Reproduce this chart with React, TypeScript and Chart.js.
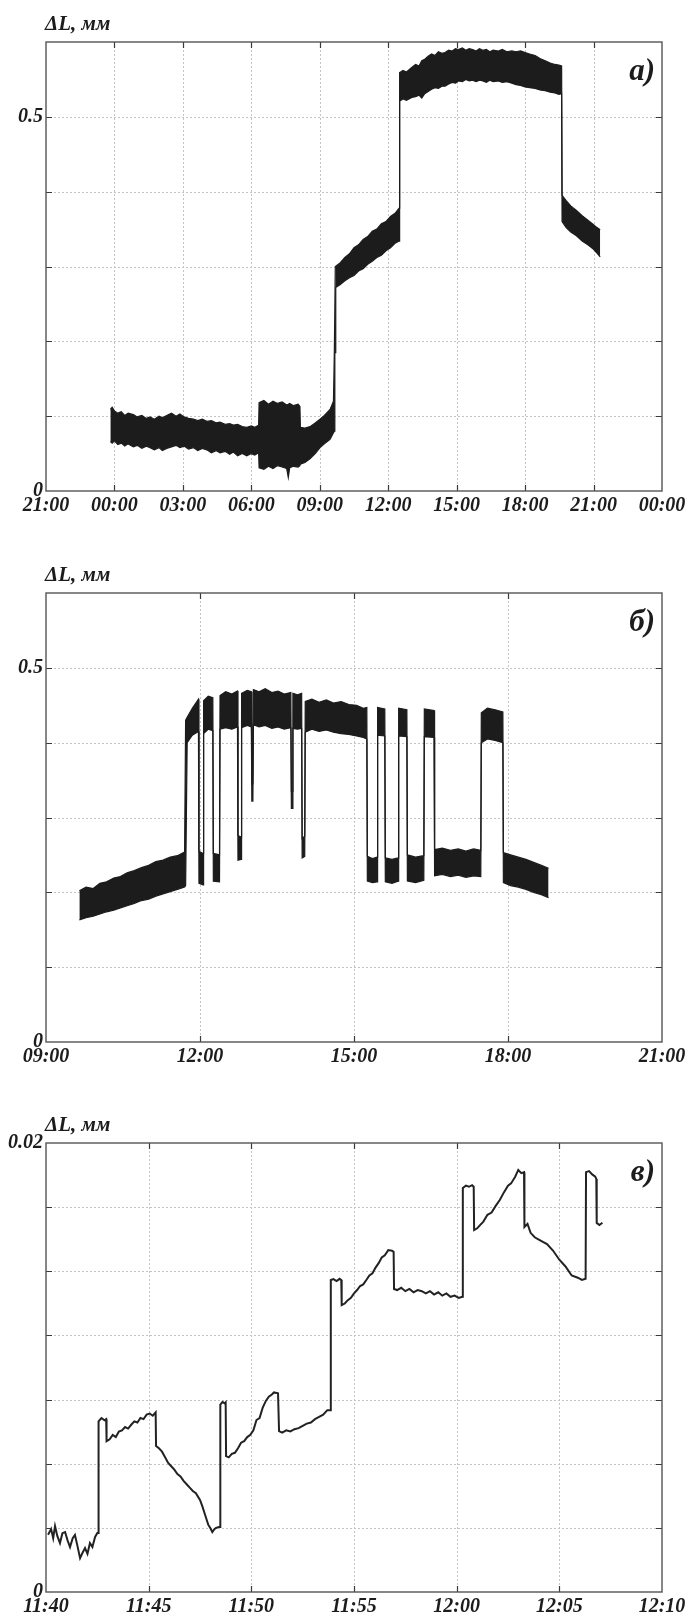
import React, { useEffect, useRef } from 'react';
import { Chart, registerables } from 'chart.js';

Chart.register(...registerables);

// ---------- Panel a: time in hours (0 = 00:00 of day 1), upper / lower envelope of the band ----------
const aTimes = [-0.18, -0.1, 0, 0.15, 0.3, 0.45, 0.6, 0.83, 1.0, 1.2, 1.4, 1.56, 1.75, 1.95, 2.1, 2.29, 2.5, 2.7, 2.87, 3.05, 3.25, 3.46, 3.65, 3.85, 4.05, 4.25, 4.45, 4.63, 4.85, 5.05, 5.21, 5.4, 5.6, 5.8, 6.0, 6.15, 6.32, 6.34, 6.55, 6.75, 6.95, 7.15, 7.35, 7.55, 7.62, 7.68, 7.85, 8.05, 8.13, 8.15, 8.35, 8.57, 8.8, 9.01, 9.2, 9.45, 9.6, 9.64, 9.66, 9.68, 9.7, 9.9, 10.1, 10.3, 10.5, 10.7, 10.9, 11.1, 11.3, 11.5, 11.7, 11.9, 12.1, 12.3, 12.48, 12.5, 12.65, 12.8, 13.03, 13.2, 13.35, 13.47, 13.6, 13.75, 13.9, 14.05, 14.2, 14.35, 14.49, 14.65, 14.8, 14.95, 15.07, 15.25, 15.4, 15.55, 15.7, 15.85, 16.0, 16.15, 16.3, 16.45, 16.6, 16.83, 17.0, 17.2, 17.42, 17.6, 17.8, 18.0, 18.2, 18.44, 18.65, 18.88, 19.1, 19.31, 19.48, 19.6, 19.62, 19.8, 20.0, 20.25, 20.5, 20.75, 21.0, 21.15, 21.29];
const aUpper = [0.109, 0.112, 0.107, 0.104, 0.106, 0.101, 0.104, 0.102, 0.099, 0.101, 0.097, 0.099, 0.096, 0.1, 0.098, 0.101, 0.104, 0.1, 0.103, 0.099, 0.097, 0.096, 0.094, 0.096, 0.093, 0.094, 0.091, 0.092, 0.089, 0.09, 0.088, 0.089, 0.086, 0.085, 0.087, 0.085, 0.088, 0.118, 0.121, 0.116, 0.12, 0.117, 0.119, 0.115, 0.116, 0.117, 0.114, 0.116, 0.113, 0.085, 0.084, 0.086, 0.091, 0.096, 0.101, 0.109, 0.12, 0.19, 0.19, 0.3, 0.3, 0.305, 0.312, 0.317, 0.325, 0.329, 0.336, 0.34, 0.347, 0.35, 0.357, 0.36, 0.367, 0.371, 0.378, 0.559, 0.562, 0.56, 0.566, 0.57, 0.568, 0.575, 0.577, 0.581, 0.584, 0.582, 0.587, 0.585, 0.586, 0.589, 0.588, 0.591, 0.59, 0.592, 0.589, 0.591, 0.59, 0.588, 0.591, 0.589, 0.59, 0.587, 0.589, 0.588, 0.59, 0.587, 0.588, 0.587, 0.588, 0.586, 0.584, 0.582, 0.578, 0.575, 0.572, 0.57, 0.569, 0.568, 0.395, 0.388, 0.381, 0.375, 0.368, 0.362, 0.356, 0.352, 0.349];
const aLower = [0.066, 0.064, 0.067, 0.062, 0.064, 0.06, 0.063, 0.059, 0.061, 0.057, 0.06, 0.058, 0.055, 0.058, 0.054, 0.057, 0.059, 0.061, 0.058, 0.06, 0.056, 0.058, 0.054, 0.057, 0.055, 0.051, 0.054, 0.051, 0.053, 0.049, 0.052, 0.047, 0.05, 0.047, 0.05, 0.048, 0.051, 0.031, 0.029, 0.033, 0.03, 0.034, 0.032, 0.03, 0.018, 0.031, 0.033, 0.032, 0.034, 0.036, 0.038, 0.043, 0.05, 0.058, 0.063, 0.069, 0.078, 0.08, 0.185, 0.185, 0.272, 0.276, 0.281, 0.285, 0.288, 0.294, 0.297, 0.303, 0.307, 0.312, 0.315, 0.321, 0.325, 0.331, 0.334, 0.521, 0.524, 0.522, 0.526, 0.527, 0.529, 0.525, 0.531, 0.534, 0.537, 0.539, 0.538, 0.541, 0.541, 0.544, 0.546, 0.545, 0.548, 0.547, 0.55, 0.548, 0.549, 0.547, 0.549, 0.548, 0.546, 0.549, 0.547, 0.548, 0.546, 0.547, 0.545, 0.543, 0.542, 0.54, 0.539, 0.538, 0.536, 0.535, 0.533, 0.532, 0.53, 0.531, 0.36, 0.352, 0.346, 0.341, 0.334, 0.329, 0.323, 0.318, 0.313];

// ---------- Panel б: time in hours ----------
const bTimes = [9.65, 9.78, 9.92, 10.05, 10.18, 10.32, 10.45, 10.58, 10.72, 10.86, 11.0, 11.14, 11.28, 11.42, 11.56, 11.7, 11.72, 11.75, 11.85, 11.97, 11.98, 12.06, 12.07, 12.16, 12.25, 12.26, 12.38, 12.39, 12.5, 12.62, 12.73, 12.74, 12.8, 12.81, 12.92, 13.0, 13.01, 13.03, 13.04, 13.15, 13.27, 13.4, 13.52, 13.64, 13.77, 13.78, 13.8, 13.81, 13.9, 13.98, 13.99, 14.04, 14.05, 14.18, 14.32, 14.46, 14.6, 14.75, 14.9, 15.05, 15.18, 15.25, 15.26, 15.36, 15.45, 15.46, 15.6, 15.61, 15.74, 15.86, 15.87, 16.03, 16.04, 16.2, 16.36, 16.37, 16.56, 16.57, 16.72, 16.88, 17.03, 17.18, 17.33, 17.47, 17.48, 17.6, 17.75, 17.9, 17.91, 18.05, 18.2, 18.35, 18.5, 18.65, 18.79];
const bUpper = [0.202, 0.207, 0.205, 0.212, 0.214, 0.219, 0.221, 0.226, 0.229, 0.233, 0.236, 0.241, 0.243, 0.247, 0.249, 0.254, 0.43, 0.434, 0.446, 0.458, 0.255, 0.252, 0.456, 0.462, 0.46, 0.252, 0.25, 0.463, 0.468, 0.465, 0.469, 0.276, 0.274, 0.466, 0.47, 0.468, 0.345, 0.345, 0.471, 0.468, 0.472, 0.467, 0.469, 0.465, 0.467, 0.335, 0.335, 0.466, 0.464, 0.466, 0.272, 0.275, 0.455, 0.458, 0.454, 0.457, 0.453, 0.455, 0.451, 0.45, 0.446, 0.447, 0.248, 0.245, 0.247, 0.447, 0.445, 0.246, 0.244, 0.246, 0.446, 0.444, 0.25, 0.247, 0.249, 0.445, 0.443, 0.257, 0.259, 0.256, 0.258, 0.255, 0.258, 0.256, 0.44, 0.446, 0.444, 0.441, 0.253, 0.25, 0.247, 0.244, 0.24, 0.236, 0.232];
const bLower = [0.163, 0.166, 0.168, 0.171, 0.174, 0.176, 0.179, 0.182, 0.185, 0.189, 0.191, 0.195, 0.198, 0.201, 0.204, 0.207, 0.209, 0.4, 0.41, 0.415, 0.212, 0.21, 0.412, 0.418, 0.416, 0.215, 0.214, 0.418, 0.42, 0.418, 0.421, 0.243, 0.244, 0.42, 0.423, 0.421, 0.322, 0.322, 0.424, 0.421, 0.423, 0.419, 0.421, 0.418, 0.42, 0.312, 0.312, 0.419, 0.418, 0.419, 0.246, 0.248, 0.414, 0.418, 0.415, 0.417, 0.414, 0.412, 0.411, 0.409, 0.407, 0.405, 0.215, 0.213, 0.214, 0.41, 0.409, 0.214, 0.212, 0.215, 0.409, 0.408, 0.215, 0.213, 0.216, 0.408, 0.407, 0.222, 0.224, 0.221, 0.223, 0.22, 0.222, 0.221, 0.4, 0.405, 0.403, 0.4, 0.213, 0.209, 0.207, 0.204, 0.2, 0.197, 0.193];

// ---------- Panel в: minutes after 11:40 ----------
const cMinutes = [0.1, 0.25, 0.35, 0.44, 0.55, 0.68, 0.8, 0.93, 1.05, 1.17, 1.3, 1.41, 1.52, 1.66, 1.78, 1.9, 2.02, 2.14, 2.26, 2.39, 2.5, 2.55, 2.56, 2.7, 2.85, 2.93, 2.95, 3.1, 3.25, 3.4, 3.55, 3.7, 3.85, 4.0, 4.15, 4.3, 4.45, 4.6, 4.75, 4.9, 5.05, 5.2, 5.34, 5.36, 5.5, 5.65, 5.8, 5.95, 6.1, 6.25, 6.4, 6.55, 6.7, 6.85, 7.0, 7.15, 7.3, 7.5, 7.62, 7.75, 7.9, 8.0, 8.1, 8.2, 8.28, 8.43, 8.48, 8.49, 8.6, 8.7, 8.75, 8.77, 8.9, 9.05, 9.2, 9.35, 9.5, 9.65, 9.8, 9.95, 10.1, 10.25, 10.4, 10.55, 10.7, 10.85, 11.0, 11.1, 11.3, 11.35, 11.5, 11.7, 11.9, 12.1, 12.3, 12.5, 12.7, 12.9, 13.1, 13.3, 13.5, 13.7, 13.85, 13.87, 14.0, 14.15, 14.3, 14.38, 14.4, 14.55, 14.7, 14.85, 15.0, 15.15, 15.3, 15.45, 15.6, 15.75, 15.9, 16.05, 16.2, 16.35, 16.5, 16.67, 16.85, 16.93, 16.95, 17.1, 17.3, 17.5, 17.7, 17.9, 18.1, 18.3, 18.5, 18.7, 18.9, 19.1, 19.3, 19.5, 19.7, 19.9, 20.1, 20.28, 20.3, 20.45, 20.6, 20.75, 20.83, 20.85, 21.0, 21.15, 21.3, 21.5, 21.7, 21.9, 22.1, 22.3, 22.5, 22.65, 22.85, 23.0, 23.15, 23.28, 23.3, 23.45, 23.6, 23.8, 24.0, 24.2, 24.4, 24.7, 25.0, 25.3, 25.6, 25.9, 26.1, 26.28, 26.3, 26.45, 26.6, 26.75, 26.8, 26.82, 26.95, 27.1];
const cValues = [0.00255, 0.0028, 0.0024, 0.00294, 0.0025, 0.00218, 0.00262, 0.00267, 0.0023, 0.002, 0.0024, 0.00254, 0.0021, 0.00151, 0.00175, 0.00196, 0.0017, 0.00218, 0.002, 0.00245, 0.00263, 0.00263, 0.0076, 0.00775, 0.00765, 0.0077, 0.00672, 0.0068, 0.007, 0.0069, 0.00715, 0.0072, 0.00735, 0.00728, 0.00745, 0.0076, 0.00755, 0.00775, 0.0077, 0.0079, 0.00795, 0.00785, 0.008, 0.0065, 0.0064, 0.00625, 0.006, 0.00575, 0.0056, 0.00545, 0.00525, 0.00515, 0.00495, 0.0048, 0.00465, 0.0045, 0.0044, 0.0041, 0.0038, 0.00343, 0.003, 0.00285, 0.00267, 0.0028, 0.00285, 0.0029, 0.0029, 0.00835, 0.00847, 0.0084, 0.00845, 0.00605, 0.006, 0.00615, 0.0062, 0.0064, 0.00665, 0.00672, 0.0069, 0.007, 0.0072, 0.00766, 0.00775, 0.0082, 0.0085, 0.0087, 0.0088, 0.00889, 0.00885, 0.00717, 0.0071, 0.0072, 0.00715, 0.00725, 0.0073, 0.0074, 0.0075, 0.00755, 0.0077, 0.0078, 0.0079, 0.0081, 0.0081, 0.0139, 0.01394, 0.01385, 0.01395, 0.0139, 0.01278, 0.01285, 0.013, 0.0131, 0.0133, 0.01345, 0.01363, 0.0137, 0.0139, 0.0141, 0.0142, 0.01445, 0.01465, 0.0149, 0.015, 0.01523, 0.0152, 0.01515, 0.0135, 0.01345, 0.01355, 0.0134, 0.0135, 0.01335, 0.01345, 0.0134, 0.0133, 0.0134, 0.01325, 0.01335, 0.0132, 0.0133, 0.01315, 0.0132, 0.0131, 0.01315, 0.018, 0.0181, 0.01805, 0.01812, 0.01805, 0.01612, 0.0162, 0.01635, 0.0165, 0.0168, 0.0169, 0.0172, 0.01746, 0.0178, 0.0181, 0.0182, 0.0185, 0.0188, 0.01866, 0.0187, 0.01626, 0.0164, 0.016, 0.0158, 0.0157, 0.0156, 0.0155, 0.0152, 0.0148, 0.0145, 0.0141, 0.014, 0.0139, 0.01395, 0.0187, 0.01875, 0.0186, 0.0185, 0.0184, 0.01644, 0.01635, 0.01645];

// ---------- Tick values ----------
const abYTicks = [0, 0.1, 0.2, 0.3, 0.4, 0.5, 0.6];
const cYTicks = [0, 0.002857, 0.005714, 0.008571, 0.011429, 0.014286, 0.017143, 0.02];
const aXTicks = [-3, 0, 3, 6, 9, 12, 15, 18, 21, 24];
const bXTicks = [9, 12, 15, 18, 21];
const cXTicks = [0, 5, 10, 15, 20, 25, 30];

const INK = '#1c1c1c';
const FONT_FAMILY = '"Liberation Serif", "Times New Roman", "DejaVu Serif", serif';
const TICK_FONT = { family: FONT_FAMILY, size: 20, style: 'italic' as const, weight: 'bold' as const };

const pad2 = (n: number) => String(n).padStart(2, '0');
const fmtHour = (v: number) => pad2(((Math.round(v) % 24) + 24) % 24) + ':00';
const fmtMin = (v: number) => {
  const total = 11 * 60 + 40 + Math.round(v);
  return pad2(Math.floor(total / 60)) + ':' + pad2(total % 60);
};

const framePlugin = {
  id: 'frame',
  beforeDatasetsDraw(chart: any) {
    const { ctx, chartArea: ca, scales } = chart;
    const xs = scales.x;
    const ys = scales.y;
    ctx.save();
    ctx.strokeStyle = '#c4c4c4';
    ctx.lineWidth = 1;
    ctx.setLineDash([2, 2]);
    ctx.beginPath();
    for (const t of xs.ticks) {
      const px = Math.round(xs.getPixelForValue(t.value)) + 0.5;
      if (px <= ca.left + 2 || px >= ca.right - 2) continue;
      ctx.moveTo(px, ca.top);
      ctx.lineTo(px, ca.bottom);
    }
    for (const t of ys.ticks) {
      const py = Math.round(ys.getPixelForValue(t.value)) + 0.5;
      if (py <= ca.top + 2 || py >= ca.bottom - 2) continue;
      ctx.moveTo(ca.left, py);
      ctx.lineTo(ca.right, py);
    }
    ctx.stroke();
    ctx.restore();
  },
  afterDatasetsDraw(chart: any) {
    const { ctx, chartArea: ca, scales } = chart;
    const xs = scales.x;
    const ys = scales.y;
    ctx.save();
    ctx.setLineDash([]);
    ctx.strokeStyle = '#3a3a3a';
    ctx.lineWidth = 1.2;
    ctx.beginPath();
    const L = 6;
    for (const t of xs.ticks) {
      const px = Math.round(xs.getPixelForValue(t.value)) + 0.5;
      if (px <= ca.left + 2 || px >= ca.right - 2) continue;
      ctx.moveTo(px, ca.top);
      ctx.lineTo(px, ca.top + L);
      ctx.moveTo(px, ca.bottom);
      ctx.lineTo(px, ca.bottom - L);
    }
    for (const t of ys.ticks) {
      const py = Math.round(ys.getPixelForValue(t.value)) + 0.5;
      if (py <= ca.top + 2 || py >= ca.bottom - 2) continue;
      ctx.moveTo(ca.left, py);
      ctx.lineTo(ca.left + L, py);
      ctx.moveTo(ca.right, py);
      ctx.lineTo(ca.right - L, py);
    }
    ctx.stroke();
    ctx.strokeStyle = '#555555';
    ctx.lineWidth = 1.4;
    ctx.strokeRect(ca.left, ca.top, ca.right - ca.left, ca.bottom - ca.top);
    ctx.restore();
  },
};

const CANVAS_W = 690;
const CANVAS_H = 550;
const PLOT_TOP = 42;
const PLOT_H = 449;

function makeScales(
  xMin: number, xMax: number, xTicks: number[], xFmt: (v: number) => string,
  yMax: number, yTicks: number[], yFmt: (v: number) => string,
) {
  return {
    x: {
      type: 'linear' as const,
      min: xMin,
      max: xMax,
      afterBuildTicks: (s: any) => { s.ticks = xTicks.map((v) => ({ value: v })); },
      ticks: {
        autoSkip: false, maxRotation: 0, minRotation: 0, padding: 3,
        color: INK, font: TICK_FONT,
        callback: (v: any) => xFmt(Number(v)),
      },
      grid: { display: false, drawTicks: false },
      border: { display: false },
      afterFit: (s: any) => {
        s.height = CANVAS_H - PLOT_TOP - PLOT_H;
        s.paddingLeft = 0; s.paddingRight = 0;
      },
    },
    y: {
      type: 'linear' as const,
      min: 0,
      max: yMax,
      afterBuildTicks: (s: any) => { s.ticks = yTicks.map((v) => ({ value: v })); },
      ticks: {
        autoSkip: false, padding: 3, color: INK, font: TICK_FONT,
        callback: (v: any) => yFmt(Number(v)),
      },
      grid: { display: false, drawTicks: false },
      border: { display: false },
      afterFit: (s: any) => {
        s.width = 46;
        s.paddingTop = 0; s.paddingBottom = 0;
      },
    },
  };
}

const baseOptions = {
  responsive: false,
  animation: false as const,
  events: [] as any[],
  layout: { padding: { top: PLOT_TOP, right: 28, left: 0, bottom: 0 } },
  plugins: { legend: { display: false }, tooltip: { enabled: false }, title: { display: false } },
};

function bandConfig(times: number[], upper: number[], lower: number[], scales: any) {
  return {
    type: 'line' as const,
    data: {
      datasets: [
        {
          data: times.map((t, i) => ({ x: t, y: upper[i] })),
          borderColor: INK, borderWidth: 1.2, pointRadius: 0, tension: 0, fill: false,
        },
        {
          data: times.map((t, i) => ({ x: t, y: lower[i] })),
          borderColor: INK, borderWidth: 1.2, pointRadius: 0, tension: 0,
          fill: '-1', backgroundColor: INK,
        },
      ],
    },
    options: { ...baseOptions, scales },
    plugins: [framePlugin],
  };
}

const abYFmt = (v: number) => (Math.abs(v) < 1e-9 ? '0' : Math.abs(v - 0.5) < 1e-9 ? '0.5' : '');
const cYFmt = (v: number) => (Math.abs(v) < 1e-12 ? '0' : Math.abs(v - 0.02) < 1e-9 ? '0.02' : '');

const configA = () => bandConfig(aTimes, aUpper, aLower,
  makeScales(-3, 24, aXTicks, fmtHour, 0.6, abYTicks, abYFmt));
const configB = () => bandConfig(bTimes, bUpper, bLower,
  makeScales(9, 21, bXTicks, fmtHour, 0.6, abYTicks, abYFmt));
const configC = () => ({
  type: 'line' as const,
  data: {
    datasets: [
      {
        data: cMinutes.map((m, i) => ({ x: m, y: cValues[i] })),
        borderColor: '#222222', borderWidth: 2, pointRadius: 0, tension: 0, fill: false,
      },
    ],
  },
  options: { ...baseOptions, scales: makeScales(0, 30, cXTicks, fmtMin, 0.02, cYTicks, cYFmt) },
  plugins: [framePlugin],
});

function Panel({ top, makeConfig, label }: { top: number; makeConfig: () => any; label: string }) {
  const ref = useRef<HTMLCanvasElement>(null);
  useEffect(() => {
    const chart = new Chart(ref.current as HTMLCanvasElement, makeConfig());
    return () => chart.destroy();
  }, []);
  return (
    <div style={{ position: 'absolute', left: 0, top, width: CANVAS_W, height: CANVAS_H }}>
      <canvas ref={ref} width={CANVAS_W} height={CANVAS_H} style={{ display: 'block', width: CANVAS_W, height: CANVAS_H }} />
      <span
        style={{
          position: 'absolute', left: 45, top: 12, whiteSpace: 'nowrap',
          font: `italic bold 21px ${FONT_FAMILY}`, lineHeight: '22px', color: INK,
        }}
      >
        ΔL, мм
      </span>
      <span
        style={{
          position: 'absolute', right: 35, top: 54, whiteSpace: 'nowrap',
          font: `italic bold 31px ${FONT_FAMILY}`, lineHeight: '32px', color: INK,
        }}
      >
        {label}
      </span>
    </div>
  );
}

export default function App() {
  return (
    <div style={{ position: 'absolute', left: 0, top: 0, width: 690, height: 1619, background: '#ffffff' }}>
      <Panel top={0} makeConfig={configA} label="а)" />
      <Panel top={551} makeConfig={configB} label="б)" />
      <Panel top={1101} makeConfig={configC} label="в)" />
    </div>
  );
}
